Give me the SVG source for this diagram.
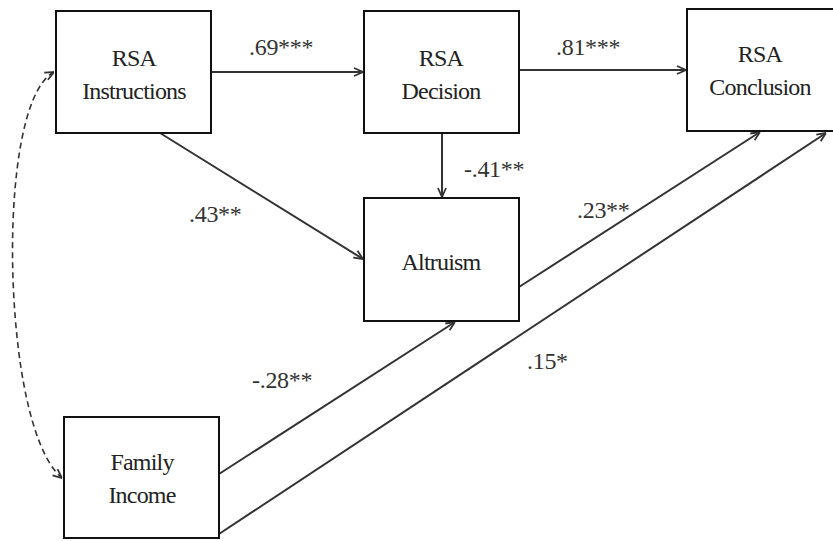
<svg xmlns="http://www.w3.org/2000/svg" width="833" height="541" viewBox="0 0 833 541">
<style>
.box{fill:#fff;stroke:#111;stroke-width:2}
.t{font-size:24px;fill:#222;text-anchor:middle;letter-spacing:-0.8px}
.l{font-size:24px;fill:#333;letter-spacing:-0.3px}
.c{fill:none;stroke:#333;stroke-width:2}
.d{fill:none;stroke:#333;stroke-width:1.6;stroke-dasharray:6,4}
</style>
<defs>
<marker id="a" viewBox="0 0 10 10" refX="10" refY="5" markerWidth="10" markerHeight="10" markerUnits="userSpaceOnUse" orient="auto-start-reverse">
<path d="M1,1 L10,5 L1,9" fill="none" stroke="#333" stroke-width="1.8"/>
</marker>
</defs>
<rect width="833" height="541" fill="#fff"/>
<g id="connectors">
<line class="c" x1="211" y1="72" x2="363" y2="72" marker-end="url(#a)"/>
<line class="c" x1="519" y1="70" x2="686" y2="70" marker-end="url(#a)"/>
<line class="c" x1="442" y1="133" x2="442" y2="197" marker-end="url(#a)"/>
<line class="c" x1="160" y1="133" x2="363" y2="259" marker-end="url(#a)"/>
<line class="c" x1="519" y1="287" x2="760" y2="132" marker-end="url(#a)"/>
<line class="c" x1="219" y1="474" x2="455" y2="322" marker-end="url(#a)"/>
<line class="c" x1="219" y1="534" x2="826" y2="133" marker-end="url(#a)"/>
<path class="d" d="M54,72 C20,90 8,200 14,300 C20,400 40,460 62,478" marker-start="url(#a)" marker-end="url(#a)"/>
</g>
<g font-family="Liberation Serif, DejaVu Serif, serif">
<g id="instructions">
<rect class="box" x="56" y="11" width="155" height="122"/>
<text class="t" x="134" y="66">RSA</text>
<text class="t" x="134" y="99">Instructions</text>
</g>
<g id="decision">
<rect class="box" x="364" y="11" width="155" height="122"/>
<text class="t" x="441" y="66">RSA</text>
<text class="t" x="441" y="99">Decision</text>
</g>
<g id="conclusion">
<rect class="box" x="687" y="9" width="150" height="122"/>
<text class="t" x="760" y="62">RSA</text>
<text class="t" x="760" y="95">Conclusion</text>
</g>
<g id="altruism">
<rect class="box" x="364" y="198" width="155" height="123"/>
<text class="t" x="441" y="270">Altruism</text>
</g>
<g id="income">
<rect class="box" x="64" y="417" width="155" height="121"/>
<text class="t" x="142" y="470">Family</text>
<text class="t" x="142" y="503">Income</text>
</g>
<g id="labels">
<text class="l" x="249" y="55">.69***</text>
<text class="l" x="556" y="55">.81***</text>
<text class="l" x="464" y="177">-.41**</text>
<text class="l" x="189" y="222">.43**</text>
<text class="l" x="577" y="218">.23**</text>
<text class="l" x="252" y="388">-.28**</text>
<text class="l" x="527" y="369">.15*</text>
</g>
</g>
</svg>
